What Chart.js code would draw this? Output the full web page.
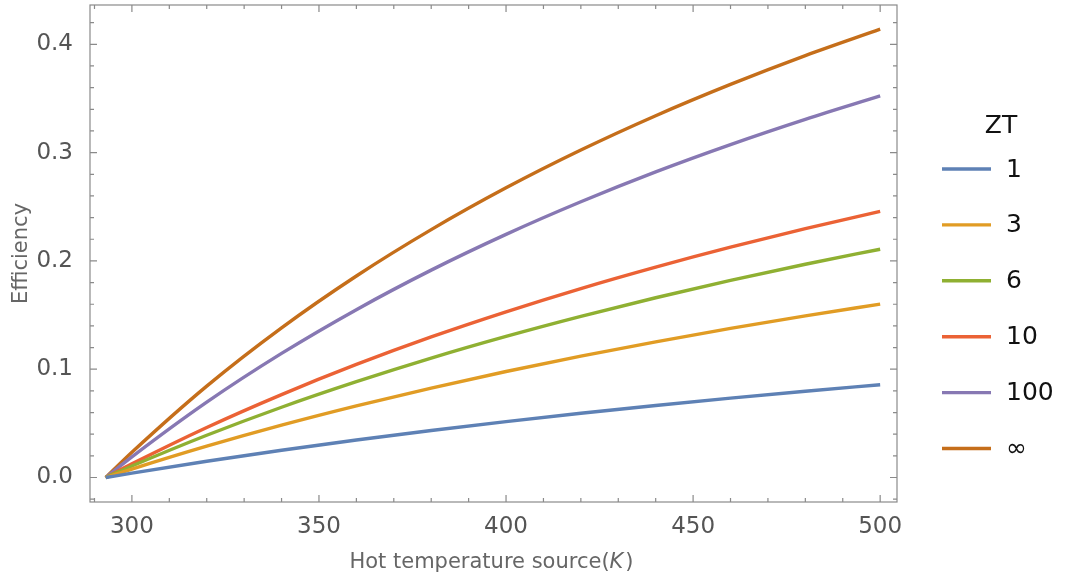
<!DOCTYPE html>
<html>
<head>
<meta charset="utf-8">
<script src="https://cdn.jsdelivr.net/npm/chart.js@4"></script>
<style>
  html, body { margin: 0; padding: 0; background: #fff; }
  #wrap { width: 1065px; height: 583px; position: relative; }
</style>
</head>
<body>
<div id="wrap"><canvas id="chart"></canvas></div>
<script>
// Hot source temperature (K)
const temps = [293, 300, 320, 340, 360, 380, 400, 420, 440, 460, 480, 500];

// Efficiency for each ZT
const zt1   = [0, 0.0040, 0.0150, 0.0252, 0.0346, 0.0434, 0.0516, 0.0593, 0.0665, 0.0733, 0.0797, 0.0857];
const zt3   = [0, 0.0078, 0.0289, 0.0483, 0.0661, 0.0826, 0.0979, 0.1121, 0.1253, 0.1377, 0.1492, 0.1601];
const zt6   = [0, 0.0106, 0.0390, 0.0649, 0.0885, 0.1103, 0.1303, 0.1488, 0.1660, 0.1820, 0.1969, 0.2108];
const zt10  = [0, 0.0126, 0.0462, 0.0766, 0.1044, 0.1298, 0.1530, 0.1745, 0.1943, 0.2127, 0.2298, 0.2458];
const zt100 = [0, 0.0191, 0.0696, 0.1146, 0.1550, 0.1915, 0.2245, 0.2546, 0.2822, 0.3074, 0.3307, 0.3523];
const ztInf = [0, 0.0233, 0.0844, 0.1382, 0.1861, 0.2289, 0.2675, 0.3024, 0.3341, 0.3630, 0.3896, 0.4140];

const seriesLabels = ['1', '3', '6', '10', '100', '\u221E'];
const seriesData = [zt1, zt3, zt6, zt10, zt100, ztInf];
const colors = ['#5E81B5', '#E19C24', '#8FB032', '#EB6235', '#8778B3', '#C56E1A'];

const xMajor = [300, 350, 400, 450, 500];
const xMinor = [290, 310, 320, 330, 340, 360, 370, 380, 390, 410, 420, 430, 440, 460, 470, 480, 490];
const yMajor = [0.0, 0.1, 0.2, 0.3, 0.4];
const yMinor = [-0.02, 0.02, 0.04, 0.06, 0.08, 0.12, 0.14, 0.16, 0.18, 0.22, 0.24, 0.26, 0.28, 0.32, 0.34, 0.36, 0.38, 0.42];

const FONT = '"DejaVu Sans", sans-serif';

// frame, inward ticks, axis titles and legend in Mathematica style
const framePlugin = {
  id: 'frame',
  afterDraw(chart) {
    const { ctx, chartArea: a, scales: { x, y } } = chart;
    ctx.save();
    ctx.strokeStyle = '#8a8a8a';
    ctx.lineWidth = 1.2;
    ctx.strokeRect(a.left, a.top, a.right - a.left, a.bottom - a.top);

    const tick = (len, xs, ys) => {
      ctx.beginPath();
      xs.forEach(v => {
        const px = x.getPixelForValue(v);
        ctx.moveTo(px, a.bottom); ctx.lineTo(px, a.bottom - len);
        ctx.moveTo(px, a.top); ctx.lineTo(px, a.top + len);
      });
      ys.forEach(v => {
        const py = y.getPixelForValue(v);
        ctx.moveTo(a.left, py); ctx.lineTo(a.left + len, py);
        ctx.moveTo(a.right, py); ctx.lineTo(a.right - len, py);
      });
      ctx.stroke();
    };
    tick(7, xMajor, yMajor);
    tick(4, xMinor, yMinor);

    // axis titles
    ctx.fillStyle = '#666';
    ctx.textBaseline = 'middle';
    const t1 = 'Hot temperature source(';
    const t3 = ')';
    ctx.font = '21px ' + FONT;
    const w1 = ctx.measureText(t1).width;
    const w3 = ctx.measureText(t3).width;
    ctx.font = 'italic 21px ' + FONT;
    const w2 = ctx.measureText('K').width + 2;
    const total = w1 + w2 + w3;
    const sx = (a.left + a.right) / 2 - 2 - total / 2;
    ctx.textAlign = 'left';
    ctx.font = '21px ' + FONT;
    ctx.fillText(t1, sx, 563);
    ctx.font = 'italic 21px ' + FONT;
    ctx.fillText('K', sx + w1, 563);
    ctx.font = '21px ' + FONT;
    ctx.fillText(t3, sx + w1 + w2, 563);

    ctx.save();
    ctx.translate(22, (a.top + a.bottom) / 2);
    ctx.rotate(-Math.PI / 2);
    ctx.textAlign = 'center';
    ctx.font = '21px ' + FONT;
    ctx.fillText('Efficiency', 0, 0);
    ctx.restore();

    // legend
    ctx.fillStyle = '#111';
    ctx.font = '25px ' + FONT;
    ctx.textAlign = 'center';
    ctx.fillText('ZT', 1001, 126);
    ctx.textAlign = 'left';
    chart.data.datasets.forEach((ds, i) => {
      const ly = 169 + i * 55.9;
      ctx.strokeStyle = ds.borderColor;
      ctx.lineWidth = 3.4;
      ctx.beginPath();
      ctx.moveTo(942, ly); ctx.lineTo(991, ly);
      ctx.stroke();
      ctx.fillStyle = '#111';
      ctx.fillText(ds.label, 1006, ly + 1);
    });
    ctx.restore();
  }
};

new Chart(document.getElementById('chart'), {
  type: 'line',
  data: {
    datasets: seriesData.map((vals, i) => ({
      label: seriesLabels[i],
      data: temps.map((t, j) => ({ x: t, y: vals[j] })),
      borderColor: colors[i],
      borderWidth: 3.4,
      pointRadius: 0,
      fill: false,
      cubicInterpolationMode: 'monotone'
    }))
  },
  options: {
    responsive: true,
    maintainAspectRatio: false,
    animation: false,
    layout: { autoPadding: false, padding: { top: 5, right: 168, left: 0, bottom: 0 } },
    plugins: { legend: { display: false }, tooltip: { enabled: false } },
    scales: {
      x: {
        type: 'linear',
        min: 288.8,
        max: 504.5,
        grid: { display: false },
        border: { display: false },
        afterBuildTicks: s => { s.ticks = xMajor.map(v => ({ value: v })); },
        afterFit: s => { s.height = 81; s.paddingLeft = 0; s.paddingRight = 0; },
        ticks: {
          color: '#555',
          font: { family: FONT, size: 23 },
          padding: 3,
          maxRotation: 0,
          autoSkip: false
        }
      },
      y: {
        type: 'linear',
        min: -0.0226,
        max: 0.4363,
        grid: { display: false },
        border: { display: false },
        afterBuildTicks: s => { s.ticks = yMajor.map(v => ({ value: v })); },
        afterFit: s => { s.width = 90; s.paddingTop = 0; s.paddingBottom = 0; },
        ticks: {
          color: '#555',
          font: { family: FONT, size: 23 },
          padding: 9,
          callback: v => v.toFixed(1)
        }
      }
    }
  },
  plugins: [framePlugin]
});
</script>
</body>
</html>
